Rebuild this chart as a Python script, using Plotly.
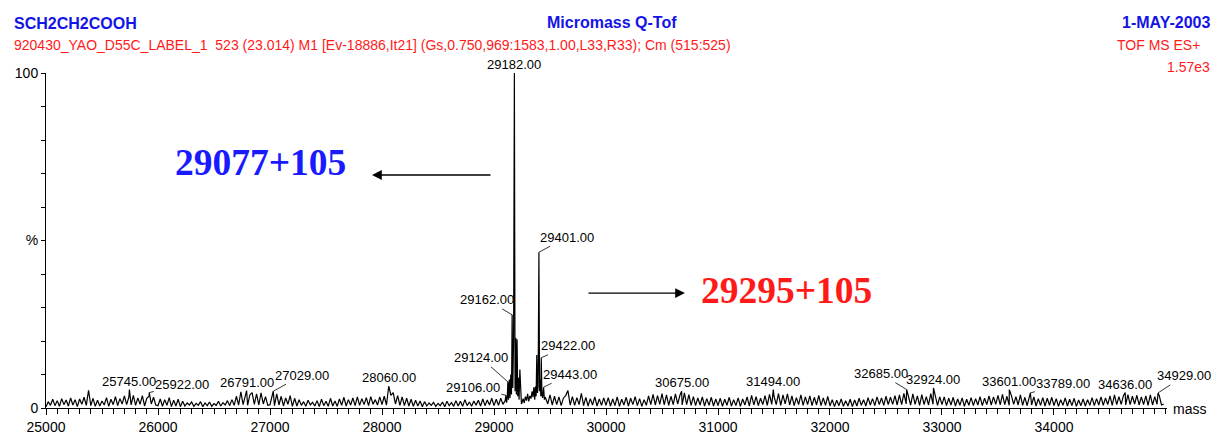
import numpy as np
import plotly.graph_objects as go

# ---------------- data ----------------
GRID_STEP = 20  # Da between noise samples

noise_25000 = [0.4,1.9,0.8,2.6,0.7,2.2,0.5,2.8,1.0,2.4,
               0.6,3.0,0.9,2.5,0.4,2.7,1.1,3.2,0.8,5.3,
               0.7,2.9,0.5,2.3,0.6,2.1,0.9,3.1,0.5,2.6,
               1.0,3.4,0.7,2.8,1.2,3.6,1.0,3.3,0.9,3.8,
               0.8,3.0,1.1,3.7,0.6,2.9,3.5,1.2,3.2,0.9]
noise_26000 = [0.7,2.7,0.5,2.5,0.8,3.1,0.4,2.3,0.6,2.6,
               0.4,2.0,0.6,1.5,0.9,1.8,0.5,1.4,0.8,1.9,
               0.4,1.5,0.7,1.8,0.5,1.3,0.8,2.0,0.6,1.6,
               0.9,2.2,0.7,2.5,0.8,3.5,0.9,4.8,1.0,4.1,
               0.8,3.9,4.6,1.1,4.2,0.9,4.5,1.2,3.4,0.8]
noise_27000 = [1.0,3.3,0.7,4.2,0.9,3.5,0.6,3.0,1.1,3.7,
               0.5,2.9,0.6,2.5,0.8,1.9,0.5,2.3,0.9,1.7,
               0.6,2.2,0.4,2.6,0.7,2.0,0.5,2.9,0.6,2.1,
               0.5,2.7,0.8,3.2,0.6,2.5,0.9,3.0,0.7,3.3,
               0.8,2.8,1.0,3.1,0.7,3.4,1.1,2.5,0.9,3.3]
noise_28000 = [1.0,3.5,0.9,4.3,3.8,4.6,1.2,3.7,0.8,3.3,
               0.7,2.9,0.6,2.6,0.5,2.3,0.6,2.1,0.4,1.9,
               0.6,1.5,0.8,1.7,0.5,1.4,0.7,1.8,0.4,2.0,
               0.7,1.6,0.5,2.2,0.6,2.0,0.5,2.5,0.7,1.8,
               0.5,2.1,0.8,2.3,0.6,2.7,0.7,2.4,0.9,2.9]
noise_29000 = [0.7,2.6,0.8,2.9,1.1]
noise_29480 = [1.2,3.9,0.9,3.5,1.0,3.3,0.7,3.0,3.7,5.2,
               0.9,3.4,0.8,3.1,1.0,4.4,0.7,3.2,0.6,2.8,
               0.9,3.3,0.6,2.7,0.8,3.0]
noise_30000 = [0.8,3.1,0.6,2.7,0.7,3.3,0.5,2.6,0.9,3.2,
               0.6,2.9,1.0,3.4,0.7,2.8,0.5,2.5,0.8,3.6,
               1.0,4.1,0.9,3.7,1.1,4.3,0.9,3.9,0.8,3.5,
               1.0,4.2,1.2,3.8,0.9,4.5,1.0,4.0,0.8,3.4,
               0.7,3.0,0.9,3.3,0.6,2.8,0.8,3.2,0.6,2.7]
noise_31000 = [0.7,2.9,0.5,2.6,0.8,3.2,0.6,2.5,0.7,3.0,
               0.5,2.7,0.9,3.3,0.6,3.8,0.9,3.4,0.7,2.9,
               1.0,3.7,0.8,4.1,1.1,3.5,1.0,4.3,0.8,3.9,
               1.2,4.2,0.9,3.6,0.7,3.1,1.0,3.9,0.8,3.3,
               1.0,3.6,0.7,3.2,0.9,3.8,0.7,3.0,0.8,3.5]
noise_32000 = [0.6,2.5,0.4,2.3,0.7,2.7,0.5,2.2,0.6,2.6,
               0.4,2.4,0.6,2.9,0.8,2.5,0.6,3.1,0.9,2.8,
               0.7,3.3,1.0,3.0,0.8,3.5,1.0,3.2,1.1,3.7,
               0.9,3.9,1.0,4.4,1.2,3.8,0.9,4.2,1.1,3.6,
               0.8,4.0,1.0,3.4,0.9,4.3,1.1,3.5,0.8,3.3]
noise_33000 = [1.0,3.3,0.7,2.9,0.9,3.2,0.6,2.7,0.8,3.0,
               0.5,2.6,0.8,3.1,0.7,2.8,0.9,3.4,0.7,2.9,
               1.0,3.6,0.9,3.3,1.1,3.8,0.9,4.1,1.0,3.5,
               0.8,3.7,1.1,3.4,0.9,3.9,0.8,3.2,0.7,3.0,
               0.9,3.3,0.6,2.8,0.8,3.1,0.6,2.9,0.8,3.2]
noise_34000 = [0.7,2.8,0.5,2.5,0.8,3.0,0.6,2.6,0.7,2.9,
               0.5,2.4,0.7,2.7,0.6,2.5,0.8,3.1,0.7,2.8,
               0.9,3.3,0.8,3.0,1.0,3.6,0.8,3.9,1.0,3.4,
               1.1,3.7,0.9,4.0,1.0,3.5,1.2,3.8,0.9,3.3,
               1.0,3.6,0.8,3.9,0.9,3.4,1.1,3.7,0.9,1.2]

noise_segments = [(25000, noise_25000), (26000, noise_26000), (27000, noise_27000),
                  (28000, noise_28000), (29000, noise_29000), (29480, noise_29480),
                  (30000, noise_30000), (31000, noise_31000), (32000, noise_32000),
                  (33000, noise_33000), (34000, noise_34000)]

cluster_mass = [29090, 29100, 29106, 29112, 29118, 29124, 29130, 29137, 29143, 29150,
                29156, 29162, 29168, 29175, 29182, 29188, 29194, 29200, 29206, 29212,
                29218, 29224, 29231, 29238, 29245, 29252, 29260, 29270, 29280, 29290,
                29300, 29310, 29320, 29330, 29340, 29348, 29356, 29364, 29370, 29376,
                29382, 29388, 29394, 29401, 29407, 29413, 29418, 29422, 29428, 29434,
                29443, 29450, 29458]
cluster_int = [1.5, 2.2, 3.8, 1.6, 3.0, 7.8, 2.5, 8.5, 3.0, 10.0,
               4.0, 27.8, 6.0, 21.0, 100.0, 5.0, 21.0, 4.0, 20.5, 3.5,
               9.0, 2.5, 11.5, 2.0, 1.2, 1.8, 2.8, 1.5, 3.4, 2.2,
               4.2, 2.0, 3.6, 2.8, 5.0, 3.2, 6.2, 2.5, 6.4, 3.5,
               15.8, 4.5, 6.5, 46.5, 5.0, 8.5, 3.5, 15.0, 4.0, 3.0,
               6.2, 2.5, 3.2]

small_peak_mass = [25745, 25922, 26791, 27029, 28060, 30675, 31494,
                   32685, 32924, 33601, 33789, 34636, 34929]
small_peak_int = [5.5, 4.6, 5.2, 5.0, 6.5, 5.0, 5.5,
                  5.5, 6.0, 5.5, 4.5, 4.6, 4.5]

# labels: mass -> (ax, ay) pixel offset of label centre; others sit directly above
label_mass = [29182, 29401, 29162, 29124, 29106, 29422, 29443,
              25745, 25922, 26791, 27029, 28060, 30675, 31494,
              32685, 32924, 33601, 33789, 34636, 34929]
label_offset = {29401: (28, -15), 29162: (-25, -15), 29124: (-27, -24), 29106: (-33, -8),
                29422: (27, -12), 29443: (26, -13), 25922: (33, -8), 27029: (29, -16),
                32685: (-26, -16), 33789: (33, -9), 34929: (26, -17)}

x_ticks = [25000, 26000, 27000, 28000, 29000, 30000, 31000, 32000, 33000, 34000]
y_tickvals = [0, 10, 20, 30, 40, 50, 60, 70, 80, 90, 100]
y_ticktext = ["0", "", "", "", "", "%", "", "", "", "", "100"]

# ---------------- assemble spectrum ----------------
pts = {}
for start, vals in noise_segments:
    for i, v in enumerate(vals):
        pts[start + GRID_STEP * i] = v
for m, v in zip(cluster_mass, cluster_int):
    pts[m] = v
for m, v in zip(small_peak_mass, small_peak_int):
    pts[m] = v
mass = np.array(sorted(pts))
inten = np.array([pts[m] for m in mass])

fig = go.Figure()
fig.add_trace(go.Scatter(x=mass, y=inten, mode="lines",
                         line=dict(color="black", width=1.2), hoverinfo="skip",
                         showlegend=False))

FONT = "Liberation Sans, Arial, sans-serif"
annotations = []
for m in label_mass:
    y = pts[m]
    txt = f"{m}.00"
    if m in label_offset:
        ax, ay = label_offset[m]
        annotations.append(dict(x=m, y=y, xref="x", yref="y", text=txt, showarrow=True,
                                arrowhead=0, arrowwidth=0.8, arrowcolor="black",
                                ax=ax, ay=ay, font=dict(family=FONT, size=13, color="black")))
    else:
        annotations.append(dict(x=m, y=y, xref="x", yref="y", text=txt, showarrow=False,
                                yanchor="bottom", yshift=-1,
                                font=dict(family=FONT, size=13, color="black")))

# header texts
annotations += [
    dict(x=-0.0303, y=1.149, xref="paper", yref="paper", xanchor="left", yanchor="middle",
         text="<b>SCH2CH2COOH</b>", showarrow=False,
         font=dict(family=FONT, size=16, color="#1414e6")),
    dict(x=-0.0303, y=1.0836, xref="paper", yref="paper", xanchor="left", yanchor="middle",
         text="920430_YAO_D55C_LABEL_1  523 (23.014) M1 [Ev-18886,It21] (Gs,0.750,969:1583,1.00,L33,R33); Cm (515:525)",
         showarrow=False, font=dict(family=FONT, size=14, color="#ff1a1a")),
    dict(x=0.505, y=1.152, xref="paper", yref="paper", xanchor="center", yanchor="middle",
         text="<b>Micromass Q-Tof</b>", showarrow=False,
         font=dict(family=FONT, size=16, color="#1414e6")),
    dict(x=1.0401, y=1.152, xref="paper", yref="paper", xanchor="right", yanchor="middle",
         text="<b>1-MAY-2003</b>", showarrow=False,
         font=dict(family=FONT, size=16, color="#1414e6")),
    dict(x=1.0312, y=1.0836, xref="paper", yref="paper", xanchor="right", yanchor="middle",
         text="TOF MS ES+", showarrow=False, font=dict(family=FONT, size=14, color="#ff1a1a")),
    dict(x=1.0401, y=1.018, xref="paper", yref="paper", xanchor="right", yanchor="middle",
         text="1.57e3", showarrow=False, font=dict(family=FONT, size=14, color="#ff1a1a")),
    dict(x=1.0205, y=-0.003, xref="paper", yref="paper", xanchor="center", yanchor="middle",
         text="mass", showarrow=False, font=dict(family=FONT, size=14, color="black")),
    # big annotations
    dict(x=26911, y=73.4, xref="x", yref="y", text="<b>29077+105</b>", showarrow=False,
         font=dict(family="Liberation Serif, Times New Roman, serif", size=37.5, color="#1a1aff")),
    dict(x=27911, y=69.55, xref="x", yref="y", ax=28982, ay=69.55, axref="x", ayref="y",
         text="", showarrow=True, arrowhead=2, arrowsize=1.4, arrowwidth=1.4, arrowcolor="black"),
    dict(x=31616, y=35.2, xref="x", yref="y", text="<b>29295+105</b>", showarrow=False,
         font=dict(family="Liberation Serif, Times New Roman, serif", size=37.5, color="#ff1a1a")),
    dict(x=30705, y=34.3, xref="x", yref="y", ax=29830, ay=34.3, axref="x", ayref="y",
         text="", showarrow=True, arrowhead=2, arrowsize=1.4, arrowwidth=1.4, arrowcolor="black"),
]

fig.update_layout(
    width=1213, height=435,
    margin=dict(l=46, r=46, t=73, b=27, autoexpand=False),
    paper_bgcolor="white", plot_bgcolor="white",
    annotations=annotations,
    font=dict(family=FONT, color="black"),
    showlegend=False,
)
fig.update_xaxes(range=[25000, 35009], tickvals=x_ticks, ticktext=[str(v) for v in x_ticks],
                 automargin=False,
                 showgrid=False, zeroline=False, showline=True, linecolor="black", linewidth=1,
                 ticks="outside", ticklen=6, tickwidth=1, tickcolor="black",
                 tickfont=dict(family=FONT, size=14, color="black"),
                 minor=dict(dtick=100, tick0=25000, ticks="outside", ticklen=5, tickwidth=1,
                            tickcolor="black", showgrid=False))
fig.update_yaxes(range=[0, 100], tickvals=y_tickvals, ticktext=y_ticktext,
                 automargin=False,
                 showgrid=False, zeroline=False, showline=True, linecolor="black", linewidth=1,
                 ticks="outside", ticklen=4, tickwidth=1, tickcolor="black",
                 tickfont=dict(family=FONT, size=14, color="black"))

fig.write_html("out.html", config={"displayModeBar": False},
               post_script="document.body.style.margin='0';document.body.style.overflow='hidden';")
